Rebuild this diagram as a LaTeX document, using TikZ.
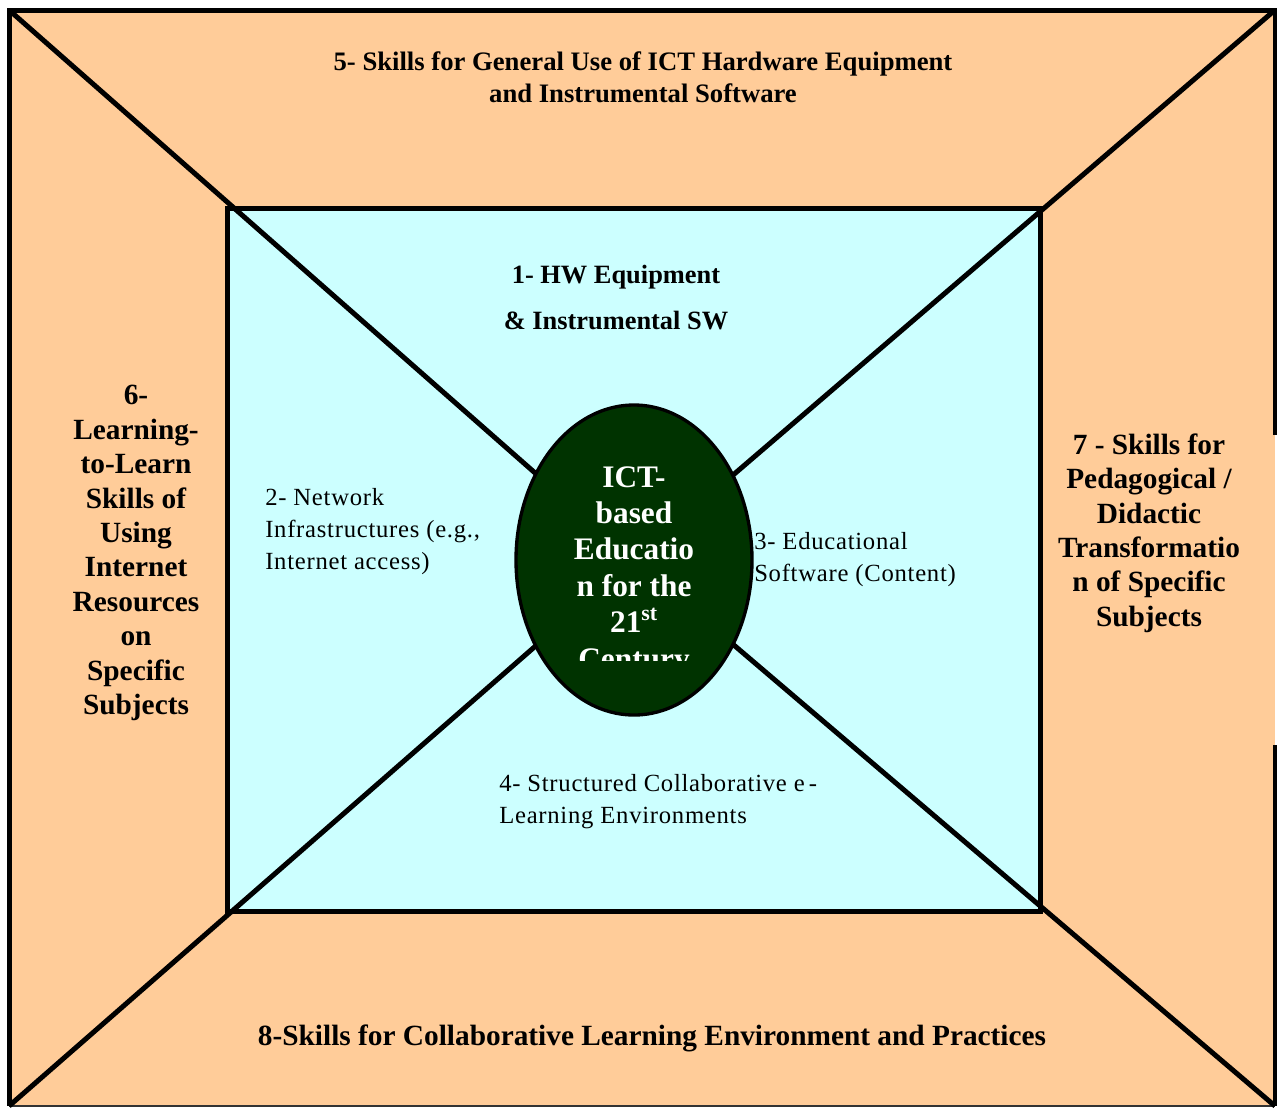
\documentclass[tikz,border=0pt]{standalone}
\usepackage{fontspec}
\setmainfont{Liberation Serif}
\usetikzlibrary{shapes.geometric}
\definecolor{peach}{RGB}{255,204,153}
\definecolor{lightcyan}{RGB}{204,255,255}
\definecolor{darkgreen}{RGB}{0,51,0}
\begin{document}
\begin{tikzpicture}[x=0.75pt,y=-0.75pt,
  heavy/.style={line width=3.75pt,line cap=butt,line join=miter},
  headtxt/.style={font=\fontsize{20}{24}\selectfont\bfseries,align=center,inner sep=0pt},
  innerhead/.style={font=\fontsize{19.8}{34.5}\selectfont\bfseries,align=center,inner sep=0pt},
  plaintxt/.style={font=\fontsize{18.5}{24}\selectfont\addfontfeature{LetterSpace=3},align=left,inner sep=0pt},
  sidetxt/.style={font=\fontsize{22}{25.8}\selectfont\bfseries,align=center,inner sep=0pt},
  bottomtxt/.style={font=\fontsize{22}{24}\selectfont\bfseries,align=center,inner sep=0pt},
  centertxt/.style={font=\fontsize{23.5}{27.3}\selectfont\bfseries,align=center,inner sep=0pt,text=white}]
\useasboundingbox (0,0) rectangle (1277,1108);
% outer frame
\fill[peach] (9,10) rectangle (1275,1106);
\draw[heavy] (1275,435) -- (1275,10) -- (9,10) -- (9,1106);
\draw[heavy] (1275,745) -- (1275,1106);
\draw[line width=1pt,black!80] (9,1106) -- (1275,1106);
% inner box
\filldraw[fill=lightcyan,heavy] (227,208) rectangle (1040,911);
% corners and centre
\coordinate (otl) at (9,10);
\coordinate (otr) at (1275,10);
\coordinate (obl) at (9,1106);
\coordinate (obr) at (1275,1106);
\coordinate (ctr) at (634,560);
\draw[heavy] (otl) -- (ctr);
\draw[heavy] (otr) -- (ctr);
\draw[heavy] (obl) -- (ctr);
\draw[heavy] (obr) -- (ctr);
% central ellipse
\node[ellipse,draw,line width=2.5pt,fill=darkgreen,inner sep=0pt,
      minimum width=177pt,minimum height=232.5pt] (ell) at (ctr) {};
\begin{scope}
  \clip (540,440) rectangle (730,660);
  \node[centertxt,anchor=north] (elltxt) at (634,466) {ICT-\\based\\Educatio\\n for the\\21\textsuperscript{st}\\Century};
\end{scope}
% labels
\node[headtxt] (t5) at (643,77) {5- Skills for General Use of ICT Hardware Equipment\\and Instrumental Software};
\node[innerhead] (t1) at (616,298) {1- HW Equipment\\\& Instrumental SW};
\node[plaintxt,anchor=west] (t2) at (265,532) {2- Network\\Infrastructures (e.g.,\\Internet access)};
\node[plaintxt,anchor=west] (t3) at (754,560) {3- Educational\\Software (Content)};
\node[plaintxt,anchor=west] (t4) at (499,802) {4- Structured Collaborative e\,-\\Learning Environments};
\node[sidetxt] (t6) at (136,553) {6-\\Learning-\\to-Learn\\Skills of\\Using\\Internet\\Resources\\on\\Specific\\Subjects};
\node[sidetxt] (t7) at (1149,533) {7 - Skills for\\Pedagogical /\\Didactic\\Transformatio\\n of Specific\\Subjects};
\node[bottomtxt] (t8) at (652,1038) {8-Skills for Collaborative Learning Environment and Practices};
\end{tikzpicture}
\end{document}
